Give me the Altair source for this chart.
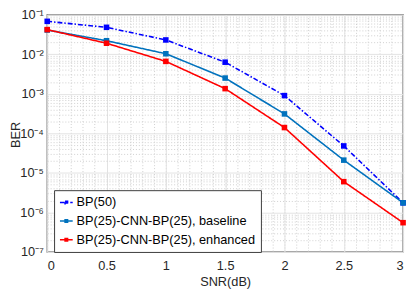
import altair as alt
import pandas as pd

snr = [0, 0.5, 1, 1.5, 2, 2.5, 3]
bp50 = [0.068, 0.048, 0.023, 0.0063, 0.0009, 4.8e-5, 1.75e-6]
baseline = [0.041, 0.022, 0.0103, 0.0025, 3.1e-4, 2.1e-5, 1.75e-6]
enhanced = [0.042, 0.019, 0.0066, 0.00135, 1.4e-4, 6.0e-6, 5.5e-7]
names = ["BP(50)", "BP(25)-CNN-BP(25), baseline", "BP(25)-CNN-BP(25), enhanced"]
colors = ["#0000FF", "#0072BD", "#FF0000"]

rows = []
for name, vals in zip(names, [bp50, baseline, enhanced]):
    for s, v in zip(snr, vals):
        rows.append({"SNR": s, "BER": v, "series": name})
df = pd.DataFrame(rows)

major_y = [1e-7, 1e-6, 1e-5, 1e-4, 1e-3, 1e-2, 1e-1]
minor_y = [m * 10.0 ** e for e in range(-7, -1) for m in range(2, 10)]
major_x = [0, 0.5, 1, 1.5, 2, 2.5, 3]
minor_x = [round(i * 0.1, 1) for i in range(0, 31)]

sup = {"-1": "⁻¹", "-2": "⁻²", "-3": "⁻³", "-4": "⁻⁴", "-5": "⁻⁵", "-6": "⁻⁶", "-7": "⁻⁷"}
label_expr = "'10' + " + "".join(
    f"(round(log(datum.value)/LN10)=={k}?'{v}':" for k, v in sup.items()
) + "''" + ")" * len(sup)

FONT = "Liberation Sans"
xscale = alt.Scale(domain=[0, 3], nice=False)
yscale = alt.Scale(type="log", domain=[1e-7, 1e-1], nice=False)

minor_grid = alt.Chart(df).mark_point(opacity=0).encode(
    x=alt.X("SNR:Q", scale=xscale,
            axis=alt.Axis(orient="bottom", values=minor_x, grid=True, gridDash=[1, 2],
                          gridColor="#cfcfcf", labels=False, ticks=False, domain=False,
                          title=None)),
    y=alt.Y("BER:Q", scale=yscale,
            axis=alt.Axis(orient="left", values=minor_y, grid=True, gridDash=[1, 2],
                          gridColor="#cfcfcf", labels=False, ticks=False, domain=False,
                          title=None)),
)

major_grid = alt.Chart(df).mark_point(opacity=0).encode(
    x=alt.X("SNR:Q", scale=xscale,
            axis=alt.Axis(orient="bottom", values=major_x, grid=True, gridColor="#e2e2e2",
                          labelFontSize=13, labelFont=FONT, labelColor="#262626", ticks=False,
                          domain=False, labelPadding=8, title="SNR(dB)", titleFont=FONT,
                          titleFontSize=13, titleFontWeight="normal", titleColor="#262626",
                          titlePadding=3, labelExpr="format(datum.value, '~g')")),
    y=alt.Y("BER:Q", scale=yscale,
            axis=alt.Axis(orient="left", values=major_y, grid=True, gridColor="#e2e2e2",
                          labelFontSize=13, labelFont=FONT, labelColor="#262626", ticks=False,
                          domain=False, labelPadding=4, labelExpr=label_expr, title="BER",
                          titleFont=FONT, titleFontSize=13, titleFontWeight="normal",
                          titleColor="#262626", titleAngle=270, titleX=-25, titleY=122,
                          titleAlign="center", titleBaseline="bottom")),
)

color_scale = alt.Scale(domain=names, range=colors)
dash_scale = alt.Scale(domain=names, range=[[5, 2, 1.5, 2], [1, 0], [1, 0]])

legend = alt.Legend(
    title=None, orient="none", legendX=7, legendY=179,
    symbolType="M-1,0H1M-0.2,-0.2H0.2V0.2H-0.2Z", symbolSize=169,
    symbolStrokeWidth=1.5, labelFont=FONT, labelFontSize=13, labelColor="#000000",
    strokeColor="#3a3a3a", fillColor="white", padding=5, rowPadding=4,
    labelOffset=3, labelLimit=300,
)

lines = alt.Chart(df).mark_line(strokeWidth=1.6, clip=True).encode(
    x=alt.X("SNR:Q", scale=xscale, axis=None),
    y=alt.Y("BER:Q", scale=yscale, axis=None),
    color=alt.Color("series:N", scale=color_scale, sort=names, legend=legend),
    strokeDash=alt.StrokeDash("series:N", scale=dash_scale, sort=names, legend=legend),
)

points = alt.Chart(df).mark_point(shape="square", filled=True, size=32, opacity=1).encode(
    x=alt.X("SNR:Q", scale=xscale, axis=None),
    y=alt.Y("BER:Q", scale=yscale, axis=None),
    color=alt.Color("series:N", scale=color_scale, sort=names, legend=legend),
)

chart = alt.layer(minor_grid, major_grid, lines, points).resolve_axis(
    x="independent", y="independent"
).properties(
    width=363, height=242, autosize="none",
    padding={"left": 40, "top": 4, "right": 4, "bottom": 38},
).configure_view(stroke="#888888", strokeWidth=1.5).configure_axis(labelFontWeight="normal")

chart.save("out.html", embed_options={"renderer": "svg", "actions": False})
